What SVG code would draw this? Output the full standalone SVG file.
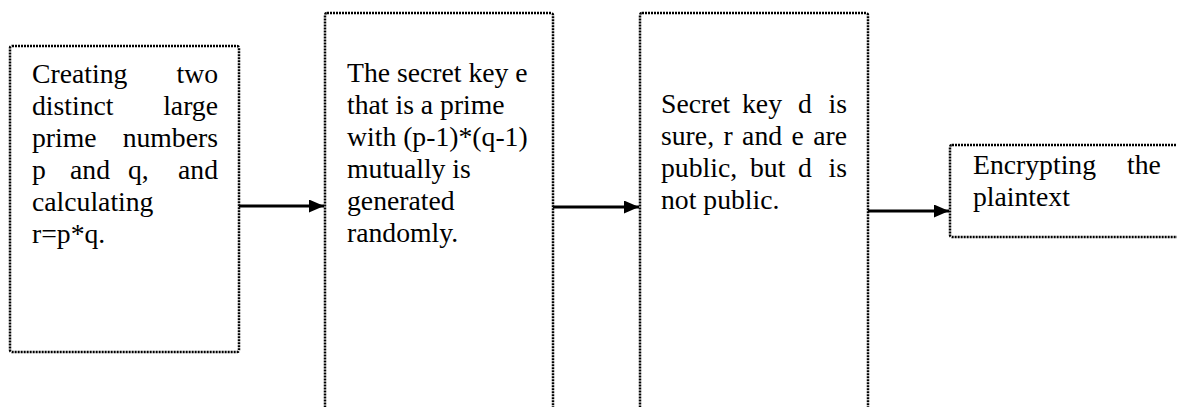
<svg xmlns="http://www.w3.org/2000/svg" width="1177" height="407" viewBox="0 0 1177 407">
<style>
.box{fill:#fff;stroke:#000;stroke-width:2.5;stroke-dasharray:2 1}
.t{font-family:"Liberation Serif","Times New Roman",serif;font-size:27.7px;fill:#000}
.e{text-anchor:end}
.c{stroke:#000;stroke-width:3;fill:none}
</style>
<defs>
<marker id="ah" markerWidth="15" markerHeight="13" refX="15" refY="6.5" orient="auto" markerUnits="userSpaceOnUse">
<path d="M0,0 L15,6.5 L0,13 Z" fill="#000"/>
</marker>
</defs>
<g id="node1">
<rect class="box" x="10" y="46" width="229" height="306" rx="2"/>
<text class="t" x="32" y="83">Creating</text><text class="t e" x="218" y="83">two</text>
<text class="t" x="32" y="115">distinct</text><text class="t e" x="218" y="115">large</text>
<text class="t" x="32" y="147">prime</text><text class="t e" x="218" y="147">numbers</text>
<text class="t" x="32" y="179">p</text><text class="t" x="70" y="179">and</text><text class="t" x="128" y="179">q,</text><text class="t e" x="218" y="179">and</text>
<text class="t" x="32" y="211">calculating</text>
<text class="t" x="32" y="243">r=p*q.</text>
</g>
<g id="node2">
<rect class="box" x="325" y="13" width="228" height="410" rx="2"/>
<text class="t" x="347" y="82">The secret key e</text>
<text class="t" x="347" y="114">that is a prime</text>
<text class="t" x="347" y="146">with (p-1)*(q-1)</text>
<text class="t" x="347" y="178">mutually is</text>
<text class="t" x="347" y="210">generated</text>
<text class="t" x="347" y="242">randomly.</text>
</g>
<g id="node3">
<rect class="box" x="640" y="13" width="228" height="410" rx="2"/>
<text class="t" x="661" y="113">Secret</text><text class="t" x="742" y="113">key</text><text class="t" x="798" y="113">d</text><text class="t e" x="847" y="113">is</text>
<text class="t" x="661" y="145" word-spacing="2.5">sure, r and e are</text>
<text class="t" x="661" y="177">public,</text><text class="t" x="750" y="177">but</text><text class="t" x="798" y="177">d</text><text class="t e" x="847" y="177">is</text>
<text class="t" x="661" y="209">not public.</text>
</g>
<g id="node4">
<rect class="box" x="950" y="145" width="240" height="92" rx="2"/>
<text class="t" x="973" y="174">Encrypting</text><text class="t" x="1127" y="174">the</text>
<text class="t" x="973" y="206">plaintext</text>
</g>
<g id="connectors">
<line class="c" x1="239" y1="206" x2="324" y2="206" marker-end="url(#ah)"/>
<line class="c" x1="553" y1="207" x2="639" y2="207" marker-end="url(#ah)"/>
<line class="c" x1="868" y1="211" x2="949" y2="211" marker-end="url(#ah)"/>
</g>
</svg>
